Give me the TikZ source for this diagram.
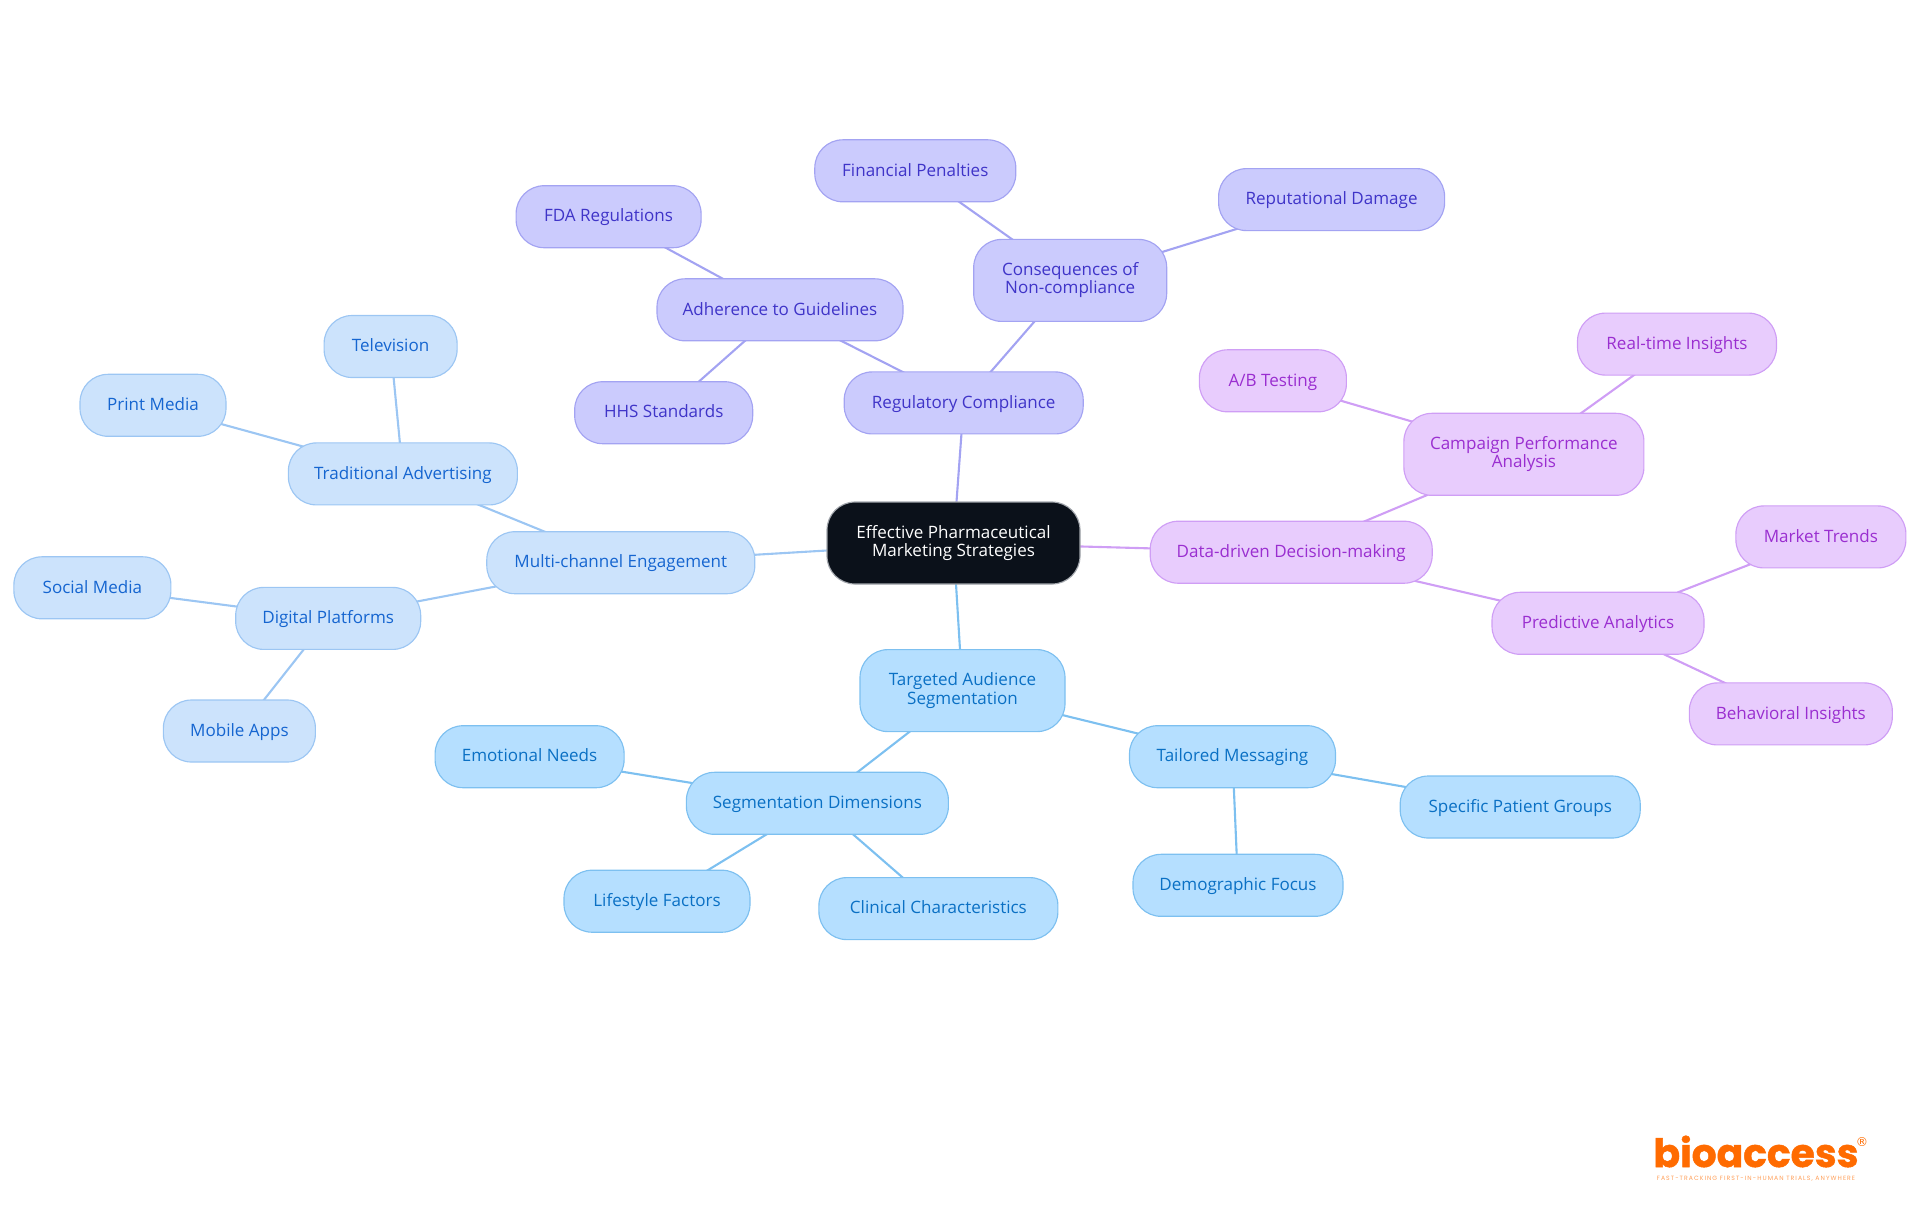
\documentclass[tikz,border=0pt]{standalone}
\usepackage{fontspec}
\setmainfont{Open Sans}
\newfontfamily\logofont{Poppins}[BoldFeatures={FakeBold=1.2}]
\newfontfamily\tagfont{Poppins}[LetterSpace=17]
\newfontfamily\markfont{DejaVu Sans}
\usetikzlibrary{backgrounds}
\definecolor{rootFill}{HTML}{0B111A}
\definecolor{rootLine}{HTML}{A3A7AD}
\definecolor{adFill}{HTML}{CCE3FC}
\definecolor{adLine}{HTML}{9CC6F3}
\definecolor{adText}{HTML}{1565D0}
\definecolor{skyFill}{HTML}{B5DFFF}
\definecolor{skyLine}{HTML}{7DC0F0}
\definecolor{skyText}{HTML}{0A70C4}
\definecolor{regFill}{HTML}{CBCBFD}
\definecolor{regLine}{HTML}{A3A3F2}
\definecolor{regText}{HTML}{3F34C8}
\definecolor{dataFill}{HTML}{E8CCFD}
\definecolor{dataLine}{HTML}{CF9EF5}
\definecolor{dataText}{HTML}{9A2ED0}
\definecolor{logoOrange}{HTML}{FF6B00}
\begin{document}
\begin{tikzpicture}
[x=0.02cm,y=-0.02cm,
  lineDecorate/.style={-,line width=1.2pt},%
  nodeDecorate/.style={shape=rectangle,rounded corners=0.56cm,draw,line width=0.65pt,inner sep=0pt,
    align=center,font=\fontsize{9.7}{10.3}\selectfont,execute at begin node={\vphantom{g}\rule{0pt}{8.3pt}}},
  rootNode/.style={nodeDecorate,fill=rootFill,draw=rootLine,text=white},
  adNode/.style={nodeDecorate,fill=adFill,draw=adLine,text=adText},
  skyNode/.style={nodeDecorate,fill=skyFill,draw=skyLine,text=skyText},
  regNode/.style={nodeDecorate,fill=regFill,draw=regLine,text=regText},
  dataNode/.style={nodeDecorate,fill=dataFill,draw=dataLine,text=dataText}]
\useasboundingbox (0,0) rectangle (1920,1215);
%% nodes or vertices
\node (root) at (953.5,543) [rootNode,minimum width=253*0.02cm,minimum height=82*0.02cm]
  {Effective Pharmaceutical\\Marketing Strategies};
\foreach \nodename/\x/\y/\w/\h/\txt in {
  compliance/963.7/402.9/239/62/{Regulatory Compliance},
  guidelines/780/309.8/246/62/{Adherence to Guidelines},
  fda/608.6/216.7/185/62/{FDA Regulations},
  hhs/663.7/412.7/178/62/{HHS Standards},
  consequences/1070.2/280.4/193/82/{Consequences of\\Non-compliance},
  penalties/915.3/170.8/201/62/{Financial Penalties},
  damage/1331.6/199.6/226/62/{Reputational Damage}}
{
  \node (\nodename) at (\x,\y) [regNode,minimum width=\w*0.02cm,minimum height=\h*0.02cm] {\txt};
}
\foreach \nodename/\x/\y/\w/\h/\txt in {
  decision/1291.2/552.2/282/62/{Data-driven Decision-making},
  campaign/1523.9/454.3/240/82/{Campaign Performance\\Analysis},
  abtest/1272.9/380.8/147/62/{A/B Testing},
  realtime/1677/344.1/199/62/{Real-time Insights},
  predictive/1598/623.3/212/62/{Predictive Analytics},
  trends/1820.9/536.9/170/62/{Market Trends},
  behavior/1790.8/713.9/203/62/{Behavioral Insights}}
{
  \node (\nodename) at (\x,\y) [dataNode,minimum width=\w*0.02cm,minimum height=\h*0.02cm] {\txt};
}
\foreach \nodename/\x/\y/\w/\h/\txt in {
  targeted/962.5/690.6/205/82/{Targeted Audience\\Segmentation},
  dimensions/817.4/803.3/262/62/{Segmentation Dimensions},
  emotional/529.6/756.7/189/62/{Emotional Needs},
  lifestyle/657/901.2/186/62/{Lifestyle Factors},
  clinical/938.4/908.6/239/62/{Clinical Characteristics},
  tailored/1232.5/756.7/206/62/{Tailored Messaging},
  specific/1520.2/807/240/62/{Specific Patient Groups},
  demographic/1238/885.3/210/62/{Demographic Focus}}
{
  \node (\nodename) at (\x,\y) [skyNode,minimum width=\w*0.02cm,minimum height=\h*0.02cm] {\txt};
}
\foreach \nodename/\x/\y/\w/\h/\txt in {
  multichannel/620.8/562.7/268/62/{Multi-channel Engagement},
  traditional/402.9/473.9/229/62/{Traditional Advertising},
  television/390.6/346.5/133/62/{Television},
  print/153/405.3/146/62/{Print Media},
  digital/328.2/618.4/185/62/{Digital Platforms},
  social/92.4/587.8/157/62/{Social Media},
  mobile/239.4/731/152/62/{Mobile Apps}}
{
  \node (\nodename) at (\x,\y) [adNode,minimum width=\w*0.02cm,minimum height=\h*0.02cm] {\txt};
}
%% edges or lines
\begin{scope}[on background layer]
\foreach \startnode/\endnode in {
  root/compliance, compliance/guidelines, compliance/consequences, guidelines/fda,
  guidelines/hhs, consequences/penalties, consequences/damage}
{
  \draw[lineDecorate,draw=regLine] (\startnode.center) -- (\endnode.center);
}
\foreach \startnode/\endnode in {
  root/decision, decision/campaign, decision/predictive, campaign/abtest,
  campaign/realtime, predictive/trends, predictive/behavior}
{
  \draw[lineDecorate,draw=dataLine] (\startnode.center) -- (\endnode.center);
}
\foreach \startnode/\endnode in {
  root/targeted, targeted/dimensions, targeted/tailored, dimensions/emotional,
  dimensions/lifestyle, dimensions/clinical, tailored/specific, tailored/demographic}
{
  \draw[lineDecorate,draw=skyLine] (\startnode.center) -- (\endnode.center);
}
\foreach \startnode/\endnode in {
  root/multichannel, multichannel/traditional, multichannel/digital, traditional/television,
  traditional/print, digital/social, digital/mobile}
{
  \draw[lineDecorate,draw=adLine] (\startnode.center) -- (\endnode.center);
}
\end{scope}
%% logo
\node (logo) at (1756,1167) [anchor=base,inner sep=0pt,text depth=0pt,text=logoOrange,font=\logofont\fontsize{22.3}{22.3}\bfseries\selectfont] {bioaccess};
\node (logomark) at (1862,1142) [inner sep=0pt,text=logoOrange,font=\markfont\fontsize{7}{7}\selectfont] {®};
\node (tagline) at (1756,1180) [anchor=base,inner sep=0pt,text height=2.5pt,text depth=0pt,text=logoOrange!65,font=\tagfont\fontsize{3.5}{3.5}\selectfont] {FAST-TRACKING FIRST-IN-HUMAN TRIALS, ANYWHERE};
\end{tikzpicture}
\end{document}
